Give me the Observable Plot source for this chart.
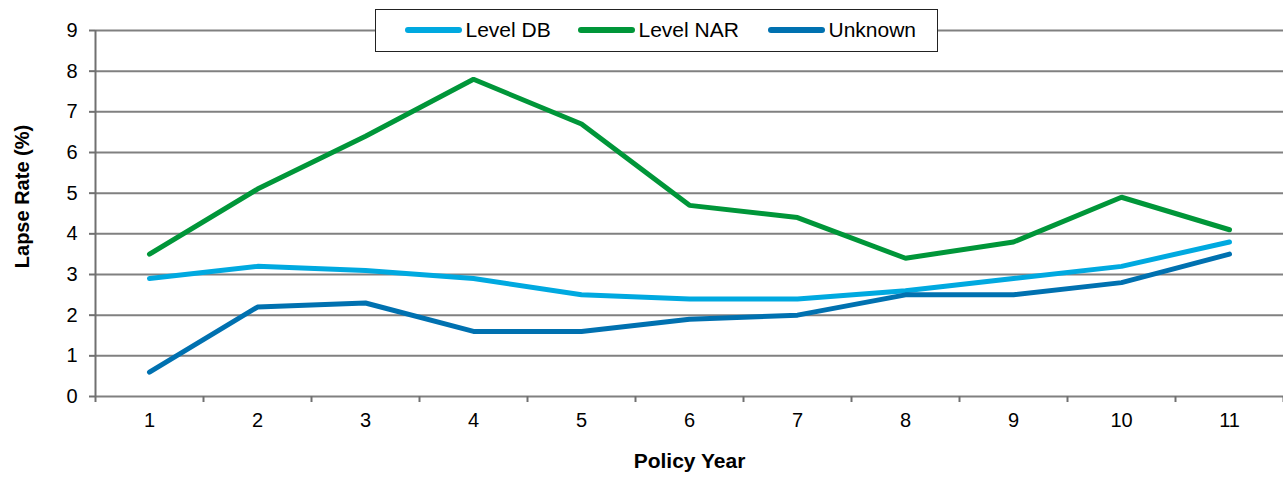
<!DOCTYPE html>
<html>
<head>
<meta charset="utf-8">
<script src="https://cdn.jsdelivr.net/npm/d3@7"></script>
<script src="https://cdn.jsdelivr.net/npm/@observablehq/plot@0.6"></script>
<style>
  html, body { margin: 0; padding: 0; background: #fff; }
  #wrap { position: relative; width: 1283px; height: 477px; font-family: "Liberation Sans", Arial, sans-serif; }
  #legend { position: absolute; left: 375px; top: 9px; width: 563px; height: 43px; box-sizing: border-box; border: 1.5px solid #222; background: #fff; font-size: 21px; color: #000; }
  .item { display: flex; align-items: center; position: absolute; top: 0; height: 40px; }
  .sw { width: 57px; height: 6px; border-radius: 3px; margin-right: 4px; }
</style>
</head>
<body>
<div id="wrap"></div>
<script>
const years = [1, 2, 3, 4, 5, 6, 7, 8, 9, 10, 11];
const seriesNames = ["Level DB", "Level NAR", "Unknown"];
const levelDB  = [2.9, 3.2, 3.1, 2.9, 2.5, 2.4, 2.4, 2.6, 2.9, 3.2, 3.8];
const levelNAR = [3.5, 5.1, 6.4, 7.8, 6.7, 4.7, 4.4, 3.4, 3.8, 4.9, 4.1];
const unknown  = [0.6, 2.2, 2.3, 1.6, 1.6, 1.9, 2.0, 2.5, 2.5, 2.8, 3.5];
const colors = ["#00A9E0", "#009639", "#0071B0"];
const yTicks = [0, 1, 2, 3, 4, 5, 6, 7, 8, 9];

const valuesBySeries = [levelDB, levelNAR, unknown];
const data = [];
seriesNames.forEach((s, i) => years.forEach((y, j) => data.push({series: s, year: y, value: valuesBySeries[i][j]})));
const bounds = d3.range(years.length + 1).map(i => years[0] - 0.5 + i);

const chart = Plot.plot({
  width: 1283,
  height: 477,
  marginLeft: 95,
  marginRight: 0,
  marginTop: 30,
  marginBottom: 81,
  style: {fontFamily: "Liberation Sans, Arial, sans-serif", fontSize: "20px", color: "#000", background: "#fff"},
  x: {type: "linear", domain: [years[0] - 0.5, years[years.length - 1] + 0.5]},
  y: {domain: [0, 9]},
  color: {domain: seriesNames, range: colors},
  marks: [
    Plot.ruleY(yTicks, {stroke: "#808080", strokeWidth: 2, strokeOpacity: 1}),
    Plot.ruleX([bounds[0]], {stroke: "#707070", strokeWidth: 2}),
    Plot.axisY({ticks: yTicks, tickSize: 6, tickPadding: 12, stroke: "#707070", strokeWidth: 2, label: null, fontSize: 20}),
    Plot.axisX({ticks: bounds, tickSize: 6, tickFormat: () => "", stroke: "#707070", strokeWidth: 2, label: null}),
    Plot.axisX({ticks: years, tickSize: 0, tickPadding: 16, tickFormat: d => String(d), label: null, fontSize: 20}),
    Plot.line(data, {x: "year", y: "value", z: "series", stroke: "series", strokeWidth: 5, strokeLinecap: "round", strokeLinejoin: "miter"}),
    Plot.text(["Lapse Rate (%)"], {frameAnchor: "left", textAnchor: "middle", lineAnchor: "middle", dx: -73, dy: -17, rotate: -90, fontWeight: "bold", fontSize: 20}),
    Plot.text(["Policy Year"], {frameAnchor: "bottom", dy: 71, fontWeight: "bold", fontSize: 21})
  ]
});
const wrap = document.getElementById("wrap");
wrap.appendChild(chart);

const legend = document.createElement("div");
legend.id = "legend";
const offsets = [28.5, 201.5, 391.5];
seriesNames.forEach((s, i) => {
  const item = document.createElement("div");
  item.className = "item";
  item.style.left = offsets[i] + "px";
  const sw = document.createElement("div");
  sw.className = "sw";
  sw.style.background = colors[i];
  const t = document.createElement("span");
  t.textContent = s;
  item.appendChild(sw);
  item.appendChild(t);
  legend.appendChild(item);
});
wrap.appendChild(legend);
</script>
</body>
</html>
